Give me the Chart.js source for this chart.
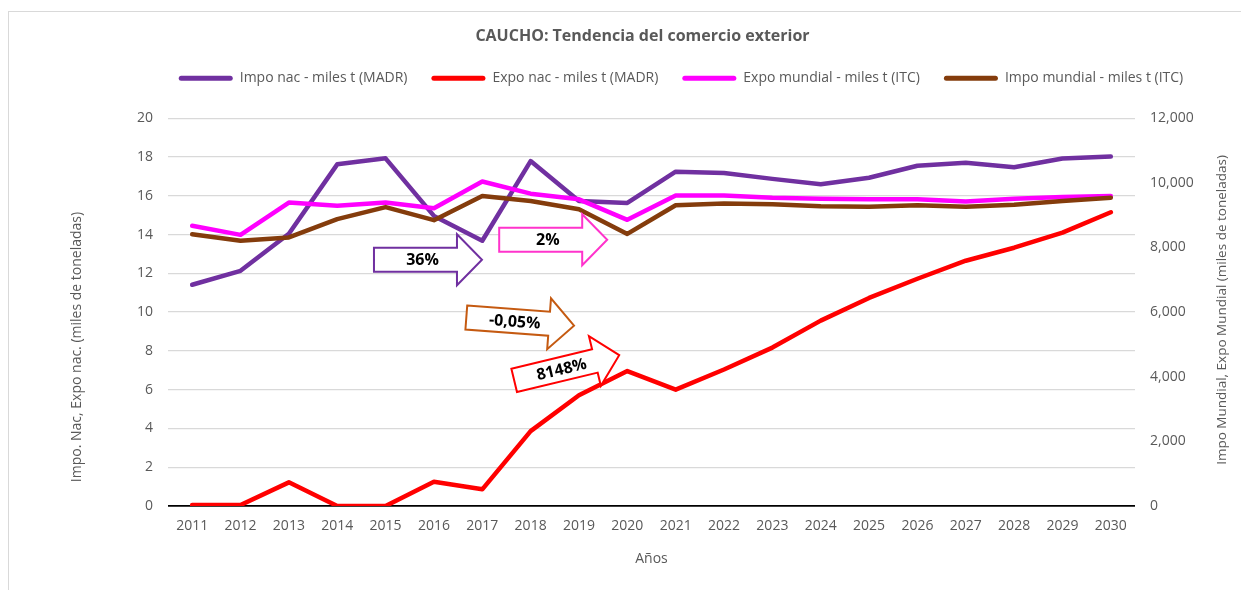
<!DOCTYPE html>
<html>
<head>
<meta charset="utf-8">
<script src="https://cdn.jsdelivr.net/npm/chart.js@4.4.1/dist/chart.umd.min.js"></script>
<style>
  html, body { margin: 0; padding: 0; background: #fff; }
  canvas { display: block; }
</style>
</head>
<body>
<canvas id="comercioChart" width="1241" height="590"></canvas>
<script>
const years = ['2011', '2012', '2013', '2014', '2015', '2016', '2017', '2018', '2019', '2020',
               '2021', '2022', '2023', '2024', '2025', '2026', '2027', '2028', '2029', '2030'];

// miles de toneladas (MADR), eje izquierdo
const impoNac = [11.41, 12.13, 14.04, 17.62, 17.93, 14.96, 13.68, 17.79, 15.73, 15.63,
                 17.24, 17.17, 16.87, 16.59, 16.93, 17.55, 17.70, 17.47, 17.92, 18.02];
const expoNac = [0.05, 0.05, 1.22, 0.0, 0.0, 1.25, 0.86, 3.86, 5.71, 6.96,
                 6.0, 7.04, 8.17, 9.56, 10.73, 11.72, 12.65, 13.32, 14.1, 15.15];

// miles de toneladas (ITC), eje derecho
const expoMundial = [8670, 8390, 9390, 9290, 9390, 9215, 10040, 9665, 9490, 8855,
                     9610, 9610, 9540, 9510, 9490, 9490, 9420, 9510, 9565, 9595];
const impoMundial = [8410, 8210, 8310, 8875, 9250, 8845, 9595, 9440, 9185, 8420,
                     9305, 9360, 9335, 9275, 9260, 9305, 9260, 9320, 9440, 9540];

// flechas de variación
const arrowLabels = ['36%', '2%', '-0,05%', '8148%'];
const arrowColors = ['#7030A0', '#FF33CC', '#C55A11', '#FF0000'];

const FONT = '"Open Sans", Lato, sans-serif';
const GREY = '#595959';

// anchor of each arrow: [category index, left-axis value], plus rotation in degrees
const arrowAt = [[3.76, 12.70], [6.35, 13.73], [5.67, 9.72], [6.66, 6.48]];
const arrowAngle = [0, 0, 4.3, -13.5];

function line(label, data, color, axis, order) {
  return {
    label, data, yAxisID: axis, order,
    borderColor: color, backgroundColor: color,
    borderWidth: 4.5, pointRadius: 0, tension: 0,
    borderCapStyle: 'round', borderJoinStyle: 'round'
  };
}

const frame = {
  id: 'frame',
  beforeDraw(chart) {
    const ctx = chart.ctx;
    ctx.save();
    ctx.strokeStyle = '#d9d9d9';
    ctx.lineWidth = 1;
    ctx.strokeRect(8.5, 11.5, 1400, 700);
    ctx.restore();
  }
};

// title and legend sit a little right of the canvas centre
const shiftHeader = {
  id: 'shiftHeader',
  afterLayout(chart) {
    chart.titleBlock.left += 44;
    chart.legend.left += 121;
  }
};

function verticalTitle(ctx, text, x, y, size) {
  ctx.save();
  ctx.fillStyle = GREY;
  ctx.font = size + 'px ' + FONT;
  ctx.textAlign = 'center';
  ctx.textBaseline = 'middle';
  ctx.translate(x, y);
  ctx.rotate(-Math.PI / 2);
  ctx.fillText(text, 0, 0);
  ctx.restore();
}

const axisTitles = {
  id: 'axisTitles',
  afterDraw(chart) {
    verticalTitle(chart.ctx, 'Impo. Nac, Expo nac. (miles de toneladas)', 77, 347, 14);
    verticalTitle(chart.ctx, 'Impo Mundial, Expo Mundial (miles de toneladas)', 1222, 310, 13.5);
  }
};

const arrows = {
  id: 'arrows',
  afterDatasetsDraw(chart) {
    const { ctx, scales } = chart;
    const L = 108, bh = 12, hh = 25.5, hl = 25;
    arrowLabels.forEach((label, i) => {
      const px = scales.x.getPixelForValue(arrowAt[i][0]);
      const py = scales.y.getPixelForValue(arrowAt[i][1]);
      ctx.save();
      ctx.translate(px, py);
      ctx.rotate(arrowAngle[i] * Math.PI / 180);
      ctx.beginPath();
      ctx.moveTo(0, -bh);
      ctx.lineTo(L - hl, -bh);
      ctx.lineTo(L - hl, -hh);
      ctx.lineTo(L, 0);
      ctx.lineTo(L - hl, hh);
      ctx.lineTo(L - hl, bh);
      ctx.lineTo(0, bh);
      ctx.closePath();
      ctx.fillStyle = '#fff';
      ctx.fill();
      ctx.strokeStyle = arrowColors[i];
      ctx.lineWidth = 2;
      ctx.stroke();
      ctx.fillStyle = '#000';
      ctx.font = 'bold 16px ' + FONT;
      ctx.textAlign = 'center';
      ctx.textBaseline = 'middle';
      ctx.fillText(label, L * 0.45, 1);
      ctx.restore();
    });
  }
};

const legendGap = {
  id: 'legendGap',
  beforeInit(chart) {
    const fit = chart.legend.fit;
    chart.legend.fit = function () {
      fit.call(this);
      this.height += 23;
    };
  }
};

const ctx = document.getElementById('comercioChart').getContext('2d');
const comercioChart = new Chart(ctx, {
  type: 'line',
  data: {
    labels: years,
    datasets: [
      line('Impo nac - miles t (MADR)', impoNac, '#7030A0', 'y', 4),
      line('Expo nac - miles t (MADR)', expoNac, '#FF0000', 'y', 3),
      line('Expo mundial - miles t (ITC)', expoMundial, '#FF00FF', 'y1', 2),
      line('Impo mundial - miles t (ITC)', impoMundial, '#843C0C', 'y1', 1)
    ]
  },
  options: {
    responsive: false,
    animation: false,
    layout: { padding: 0 },
    plugins: {
      title: {
        display: true,
        text: 'CAUCHO: Tendencia del comercio exterior',
        color: GREY,
        font: { family: FONT, size: 16, weight: 'bold' },
        padding: { top: 27, bottom: 1 }
      },
      legend: {
        position: 'top',
        labels: {
          color: GREY,
          font: { family: FONT, size: 14 },
          boxWidth: 54,
          boxHeight: 5,
          padding: 24,
          useBorderRadius: true,
          borderRadius: 2.5,
          sort: (a, b) => a.datasetIndex - b.datasetIndex,
          generateLabels(chart) {
            return Chart.defaults.plugins.legend.labels.generateLabels(chart)
              .map(item => Object.assign(item, { lineWidth: 0 }));
          }
        }
      },
      tooltip: { enabled: false }
    },
    scales: {
      x: {
        offset: true,
        grid: { display: false, drawTicks: false },
        border: { display: false },
        ticks: { color: GREY, font: { family: FONT, size: 14 }, padding: 12, maxRotation: 0 },
        title: {
          display: true, text: 'Años', color: GREY,
          font: { family: FONT, size: 14 }, padding: { top: 0, bottom: 23 }
        },
        afterFit(scale) { scale.height = 84; }
      },
      y: {
        position: 'left',
        min: 0, max: 20,
        ticks: { stepSize: 2, color: GREY, font: { family: FONT, size: 14 }, padding: 15 },
        grid: {
          drawTicks: false,
          color: c => c.tick.value === 0 ? '#000' : '#d9d9d9',
          lineWidth: c => c.tick.value === 0 ? 1.8 : 1.3
        },
        border: { display: false },
        afterFit(scale) { scale.width = 168; }
      },
      y1: {
        position: 'right',
        min: 0, max: 12000,
        ticks: {
          stepSize: 2000, color: GREY, font: { family: FONT, size: 14 }, padding: 15,
          callback: v => v.toLocaleString('en-US')
        },
        grid: { display: false, drawTicks: false },
        border: { display: false },
        afterFit(scale) { scale.width = 106; }
      }
    }
  },
  plugins: [frame, shiftHeader, axisTitles, arrows, legendGap]
});
</script>
</body>
</html>
